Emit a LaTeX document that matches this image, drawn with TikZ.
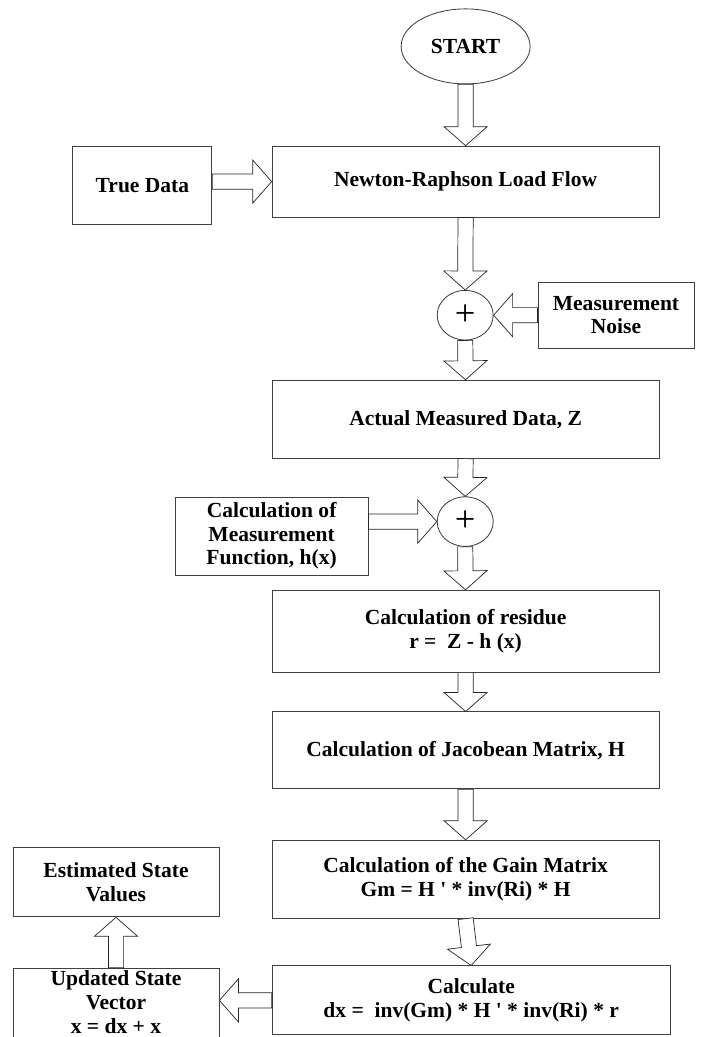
\documentclass[tikz,border=0pt]{standalone}
\usepackage{fontspec}
\setmainfont{Liberation Serif}
\usetikzlibrary{shapes.geometric, calc}

\begin{document}
\begin{tikzpicture}[
        box/.style={rectangle, draw=black!75, line width=0.6pt, inner sep=2pt, align=center, font=\bfseries\fontsize{15.3}{16.8}\selectfont},
        oval/.style={ellipse, draw=black!75, line width=0.6pt, inner sep=0pt, font=\bfseries\fontsize{15.3}{16.8}\selectfont},
        sum/.style={ellipse, draw=black!75, line width=0.6pt, inner sep=0pt, minimum width=1.4cm, minimum height=1.24cm, font=\fontsize{26}{26}\selectfont},
        fat/.style={draw=black!85, line width=0.5pt, fill=white, line join=miter,
            to path={let \p1=(\tikztostart), \p2=(\tikztotarget),
                \n1={atan2(\y2-\y1,\x2-\x1)}, \n2={veclen(\x2-\x1,\y2-\y1)} in
                {[shift={(\p1)}, rotate=\n1]
                (0cm,-0.19cm) -- ({\n2*1pt-0.475cm},-0.19cm) -- ({\n2*1pt-0.475cm},-0.54cm)
                -- ({\n2*1pt},0cm) -- ({\n2*1pt-0.475cm},0.54cm) -- ({\n2*1pt-0.475cm},0.19cm)
                -- (0cm,0.19cm) -- cycle}}}
    ]
        \useasboundingbox (0,0) rectangle (17.55,-25.925);

        \node[oval, minimum width=3.225cm, minimum height=1.875cm] (start) at (11.64, -1.16) {START};
        \node[box, minimum width=9.675cm, minimum height=1.775cm] (newton) at (11.64, -4.54) {Newton-Raphson Load Flow};
        \node[box, minimum width=3.475cm, minimum height=1.95cm] (truedata) at (3.56, -4.63) {True Data};
        \node[sum] (sum1) at (11.63, -7.88) {+};
        \node[box, minimum width=3.9cm, minimum height=1.65cm] (noise) at (15.4, -7.88) {Measurement\\Noise};
        \node[box, minimum width=9.675cm, minimum height=1.95cm] (actual) at (11.64, -10.48) {Actual Measured Data, Z};
        \node[sum] (sum2) at (11.63, -13.04) {+};
        \node[box, minimum width=4.825cm, minimum height=1.95cm] (measfn) at (6.79, -13.4) {Calculation of\\Measurement\\Function, h(x)};
        \node[box, minimum width=9.675cm, minimum height=2.05cm] (residue) at (11.64, -15.78) {Calculation of residue\\r =~ Z - h (x)};
        \node[box, minimum width=9.675cm, minimum height=1.925cm] (jacob) at (11.64, -18.76) {Calculation of Jacobean Matrix, H};
        \node[box, minimum width=9.675cm, minimum height=1.95cm] (gain) at (11.64, -21.98) {Calculation of the Gain Matrix\\Gm = H \textquotesingle{} * inv(Ri) * H};
        \node[box, minimum width=9.95cm, minimum height=1.725cm] (calc) at (11.78, -25.01) {Calculate\\dx =~ inv(Gm) * H \textquotesingle{} * inv(Ri) * r};
        \node[box, minimum width=5.15cm, minimum height=1.725cm] (estimated) at (2.9, -22.06) {Estimated State\\Values};
        \node[box, minimum width=5.15cm, minimum height=1.9cm, text depth=0.3cm] (updated) at (2.9, -25.2) {Updated State\\Vector\\x = dx + x};

        \draw[fat] (start.south) to (newton.north);
        \draw[fat] (truedata.east |- newton.west) to (newton.west);
        \draw[fat] (newton.south) to (sum1.north);
        \draw[fat] (noise.west) to (sum1.east);
        \draw[fat] (sum1.south) to (actual.north);
        \draw[fat] (actual.south) to (sum2.north);
        \draw[fat] (measfn.east |- sum2.west) to (sum2.west);
        \draw[fat] (sum2.south) to (residue.north);
        \draw[fat] (residue.south) to (jacob.north);
        \draw[fat] (jacob.south) to (gain.north);
        \draw[fat] (gain.south) to (calc.north);
        \draw[fat] (calc.west) to (calc.west -| updated.east);
        \draw[fat] (updated.north) to (estimated.south);
    \end{tikzpicture}
\end{document}
